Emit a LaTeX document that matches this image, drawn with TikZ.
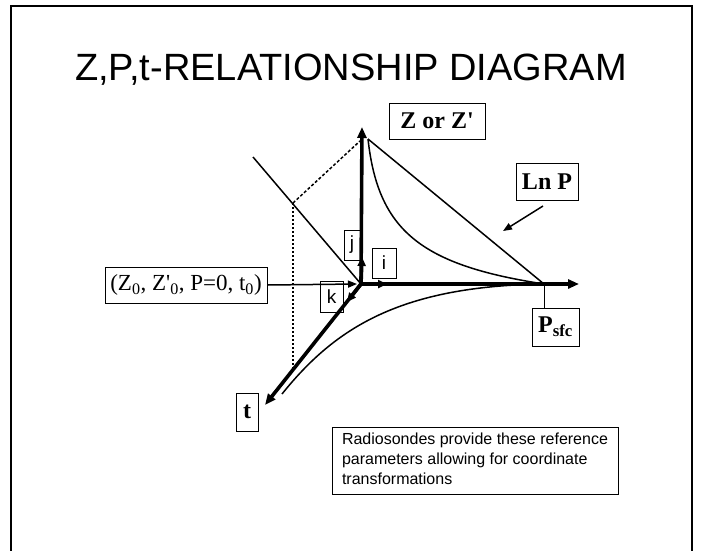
\documentclass[tikz,border=0pt]{standalone}
\usepackage{fontspec}
\setmainfont{Liberation Serif}
\setsansfont{Liberation Sans}
\usetikzlibrary{arrows.meta}
\begin{document}
\begin{tikzpicture}[x=1pt,y=-1pt,
  axisline/.style={line width=3.6pt,-{Triangle[length=11pt,width=9pt]}},
  unitvec/.style={line width=3.6pt,-{Triangle[length=9pt,width=8pt]}},
  thinline/.style={line width=1.5pt},
  thinarrow/.style={line width=1.5pt,-{Triangle[length=9pt,width=7pt]}},
  lblbox/.style={draw,line width=0.8pt,inner sep=0pt,font=\bfseries\fontsize{24}{26}\selectfont},
  vecbox/.style={draw,line width=0.8pt,inner sep=0pt,font=\sffamily\fontsize{19}{21}\selectfont},
]
\useasboundingbox (0,0) rectangle (704,550);
\fill[white] (0,0) rectangle (704,550);
% frame
\draw[line width=2pt] (11,560) -- (11,6) -- (692,6) -- (692,560);
% title
\node[font=\sffamily\fontsize{38}{40}\selectfont] (title) at (351,70) {Z,P,t-RELATIONSHIP DIAGRAM};
% key points
\coordinate (O) at (361,284);
\coordinate (Ztip) at (362,127);
\coordinate (Ptip) at (579,284);
\coordinate (Ttip) at (265,405);
\coordinate (Psfc) at (544,284);
\coordinate (Ztop) at (368,139);
\coordinate (D1) at (253,157);
\coordinate (D2) at (293,203);
\coordinate (D3) at (360,141);
\coordinate (D4) at (293,370);
\coordinate (C1) at (282,394);
% helper lines
\draw[thinline] (D1) -- (O);
\draw[thinline,dash pattern=on 3pt off 2pt] (D2) -- (D3);
\draw[thinline,dash pattern=on 2pt off 2pt] (D2) -- (D4);
% curves
\draw[thinline] (Ztop) -- (Psfc);
\draw[thinline] (Ztop) .. controls (378,230) and (420,265) .. (Psfc);
\draw[thinline] (C1) .. controls (335,328) and (400,286) .. (Psfc);
% axes
\draw[axisline] (O) -- (Ztip);
\draw[axisline] (O) -- (Ptip);
\draw[axisline] (O) -- (Ttip);
% unit vectors
\coordinate (jt) at (362,257);
\coordinate (it) at (387,284);
\coordinate (kt) at (347,302);
\draw[unitvec] (O) -- (jt);
\draw[unitvec] (O) -- (it);
\draw[unitvec] (O) -- (kt);
% labels
\node[vecbox,minimum width=16pt,minimum height=30pt] (j) at (352,245) {j};
\node[vecbox,minimum width=24pt,minimum height=30pt] (i) at (384,263) {i};
\node[vecbox,minimum width=23pt,minimum height=31pt] (k) at (331.5,296.5) {k};
\node[draw,line width=0.8pt,inner sep=0pt,minimum width=162pt,minimum height=36pt,font=\fontsize{23}{25}\selectfont] (init) at (186,285) {(Z\textsubscript{0}, Z\textquotesingle\textsubscript{0}, P=0, t\textsubscript{0})};
\node[lblbox,minimum width=22pt,minimum height=38pt] (t) at (247,412) {t};
\node[lblbox,minimum width=96pt,minimum height=36pt] (Z) at (437,121) {Z or Z\textquotesingle};
\node[lblbox,minimum width=62pt,minimum height=37pt] (lnp) at (547,181.5) {Ln P};
\node[lblbox,minimum width=47pt,minimum height=38pt] (ps) at (555.5,327) {P\textsubscript{sfc}};
\node[draw,line width=0.8pt,inner sep=0pt,minimum width=286pt,minimum height=67pt,font=\sffamily\fontsize{16}{20}\selectfont] (radio) at (475,460.5) {\begin{tabular}{@{}l@{}}Radiosondes provide these reference\\parameters allowing for coordinate\\transformations\end{tabular}};
% connectors
\coordinate (inArrowEnd) at (357,284);
\draw[thinarrow] (init.east) -- (inArrowEnd);
\coordinate (lnpA) at (543,206);
\coordinate (lnpB) at (503,231);
\draw[thinarrow] (lnpA) -- (lnpB);
\draw[line width=0.8pt] (Psfc) -- (ps.north -| Psfc);
\end{tikzpicture}
\end{document}
